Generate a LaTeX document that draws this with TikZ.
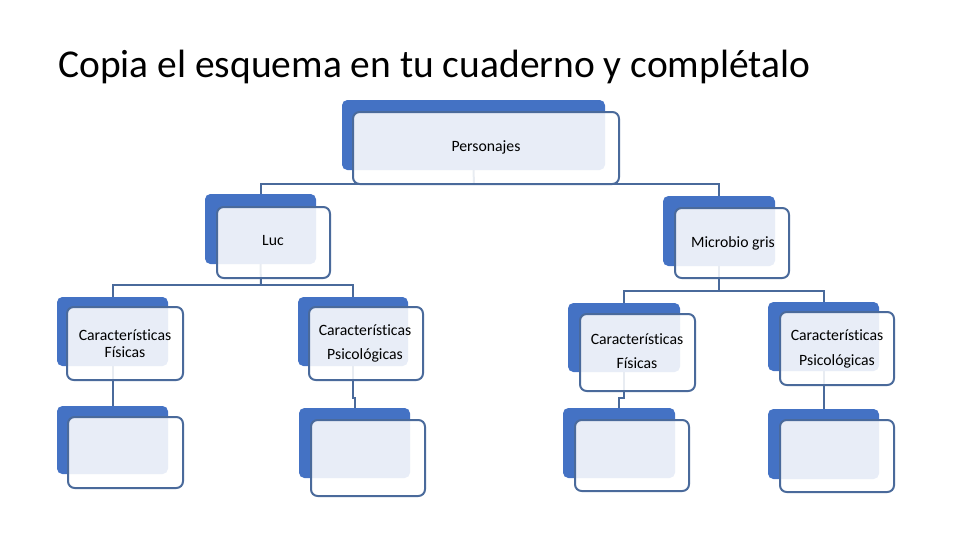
\documentclass[tikz,border=0pt]{standalone}
\usepackage{fontspec}
\setmainfont{Carlito}[Ligatures=NoCommon]
\usetikzlibrary{fit}
\definecolor{azul}{HTML}{4472C4}
\definecolor{borde}{HTML}{4A6A9B}

\begin{document}
\begin{tikzpicture}[x=0.75pt, y=-0.75pt,
  fondo/.style={fill=azul, rounded corners=4pt, inner sep=0pt, outer sep=0pt},
  marco/.style={draw=borde, line width=1.5pt, fill=white, fill opacity=0.88, rounded corners=5pt, inner sep=0pt, outer sep=0pt},
  texto/.style={inner sep=0pt, align=center, font=\fontsize{11.8}{12.75}\selectfont},
  linea/.style={draw=borde, line width=1.5pt}]

        \useasboundingbox (0,0) rectangle (960,540);
        \node[anchor=base west, inner sep=0pt, font=\fontsize{29.6}{34}\selectfont] (titulo) at (58,77) {Copia el esquema en tu cuaderno y complétalo};

        % Fondos azules
        \node[fondo, fit={(342,100) (605,170)}] (perF) {};
        \node[fondo, fit={(205,194) (316,264)}] (lucF) {};
        \node[fondo, fit={(663,196) (775,266)}] (micF) {};
        \node[fondo, fit={(57,297) (168,366)}] (fis1F) {};
        \node[fondo, fit={(298,297) (408,366)}] (psi1F) {};
        \node[fondo, fit={(568,303) (680,372)}] (fis2F) {};
        \node[fondo, fit={(768,302) (879,371)}] (psi2F) {};
        \node[fondo, fit={(57,406) (168,474)}] (bl1F) {};
        \node[fondo, fit={(299,408) (410,478)}] (bl2F) {};
        \node[fondo, fit={(563,408) (675,478)}] (bl3F) {};
        \node[fondo, fit={(768,409) (879,479)}] (bl4F) {};

        % Conectores
        \coordinate (perJ) at (474,184);
        \coordinate (lucJ) at (261,285);
        \coordinate (micJ) at (719,291);
        \draw[linea] (perF.south) -- (perJ);
        \draw[linea] (perJ) -| (lucF.north);
        \draw[linea] (perJ) -| (micF.north);
        \draw[linea] (lucF.south) -- (lucJ);
        \draw[linea] (lucJ) -| (fis1F.north);
        \draw[linea] (lucJ) -| (psi1F.north);
        \draw[linea] (micF.south) -- (micJ);
        \draw[linea] (micJ) -| (fis2F.north);
        \draw[linea] (micJ) -| (psi2F.north);
        \draw[linea] (fis1F.south) -- (bl1F.north);
        \draw[linea] (psi1F.south) -- ++(0,32) -| (bl2F.north);
        \draw[linea] (fis2F.south) -- ++(0,26) -| (bl3F.north);
        \draw[linea] (psi2F.south) -- (bl4F.north);

        % Marcos
        \node[marco, fit={(353,112) (619,184)}] (per) {};
        \node[marco, fit={(217,207) (330,278)}] (luc) {};
        \node[marco, fit={(675,208) (789,278)}] (mic) {};
        \node[marco, fit={(67,307) (183,380)}] (fis1) {};
        \node[marco, fit={(309,307) (423,380)}] (psi1) {};
        \node[marco, fit={(580,314) (695,391)}] (fis2) {};
        \node[marco, fit={(780,312) (894,385)}] (psi2) {};
        \node[marco, fit={(68,417) (183,488)}] (bl1) {};
        \node[marco, fit={(311,420) (425,496)}] (bl2) {};
        \node[marco, fit={(575,420) (689,491)}] (bl3) {};
        \node[marco, fit={(780,420) (894,492)}] (bl4) {};

        % Textos
        \node[texto] (perT) at (486,147) {Personajes};
        \node[texto] (lucT) at (273,241) {Luc};
        \node[texto] (micT) at (733,243) {Microbio gris};
        \node[texto] (fis1T) at (125,343.5) {Características\\Físicas};
        \node[texto] (psi1T) at (365,343.5) {Características\\[5.5pt]Psicológicas};
        \node[texto] (fis2T) at (637,351) {Características\\[5.5pt]Físicas};
        \node[texto] (psi2T) at (837,349) {Características\\[5.5pt]Psicológicas};
\end{tikzpicture}
\end{document}
